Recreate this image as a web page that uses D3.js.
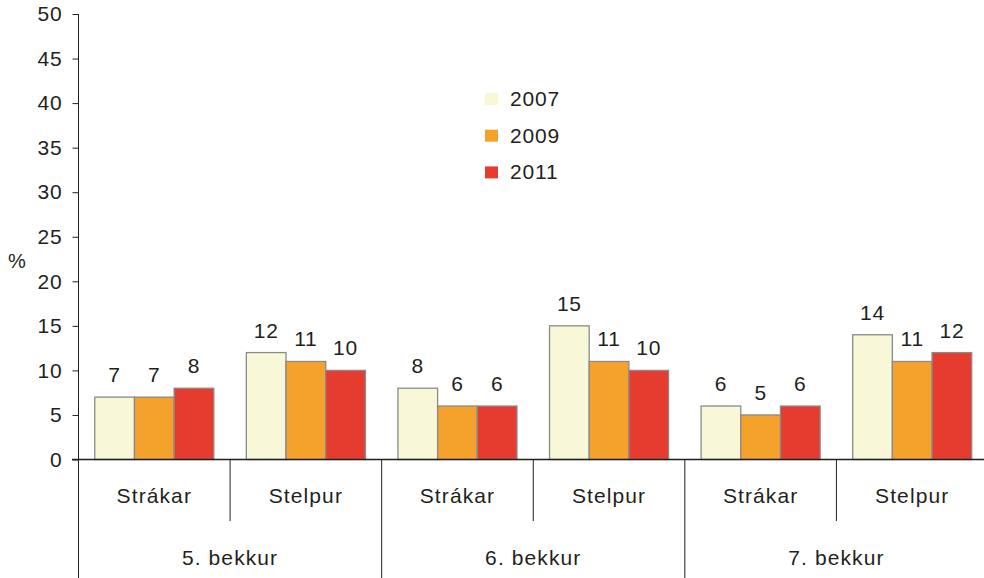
<!DOCTYPE html>
<html>
<head>
<meta charset="utf-8">
<script src="https://cdn.jsdelivr.net/npm/d3@7"></script>
<style>
  body { margin: 0; background: #fff; }
  text { font-family: "Liberation Sans", Arial, sans-serif; fill: #231f20; }
</style>
</head>
<body>
<div id="chart"></div>
<script>
// Dades
const bekkir = ["5. bekkur", "6. bekkur", "7. bekkur"];
const kyn = ["Strákar", "Stelpur"];
const ar = ["2007", "2009", "2011"];
const gildi2007 = [7, 12, 8, 15, 6, 14];
const gildi2009 = [7, 11, 6, 11, 5, 11];
const gildi2011 = [8, 10, 6, 10, 6, 12];
const yTicks = [0, 5, 10, 15, 20, 25, 30, 35, 40, 45, 50];
const litir = ["#f8f7d8", "#f5a22c", "#e63c30"];

const ample = 984, alt = 578;
const svg = d3.select("#chart").append("svg")
  .attr("width", ample).attr("height", alt);

// Subflokkar: 6 stk (bekkur x kyn)
const flokkar = [];
bekkir.forEach(b => kyn.forEach(k => flokkar.push(b + "|" + k)));
const rodir = [gildi2007, gildi2009, gildi2011];
const dades = flokkar.map((f, i) => ({
  flokkur: f,
  gildi: ar.map((a, j) => ({ ar: a, val: rodir[j][i] }))
}));

const x0 = d3.scaleBand().domain(flokkar).range([78.5, 988]).padding(0);
const x1 = d3.scaleBand().domain(ar).range([0, x0.bandwidth()])
  .paddingInner(0).paddingOuter(0.41);
const xb = d3.scaleBand().domain(bekkir).range([78.5, 988]).padding(0);
const y = d3.scaleLinear().domain([0, 50]).range([459.5, 14]);

// Súlur
const hop = svg.selectAll(".hop").data(dades).enter().append("g")
  .attr("transform", d => `translate(${x0(d.flokkur)},0)`);

hop.selectAll("rect").data(d => d.gildi).enter().append("rect")
  .attr("x", d => x1(d.ar))
  .attr("y", d => y(d.val))
  .attr("width", x1.bandwidth())
  .attr("height", d => y(0) - y(d.val))
  .attr("fill", (d, i) => litir[i])
  .attr("stroke", "#8a8a8a")
  .attr("stroke-width", 1.3);

hop.selectAll(".lab").data(d => d.gildi).enter().append("text")
  .attr("x", d => x1(d.ar) + x1.bandwidth() / 2)
  .attr("y", d => y(d.val) - 15)
  .attr("text-anchor", "middle")
  .style("font-size", "21px")
  .style("letter-spacing", "0.8px")
  .text(d => d.val);

// Y ás
const yAxis = svg.append("g").attr("transform", "translate(78.5,0)")
  .call(d3.axisLeft(y).tickValues(yTicks).tickSize(6).tickPadding(10));
yAxis.select(".domain").remove();
yAxis.selectAll(".tick line").attr("stroke", "#231f20");
yAxis.selectAll(".tick text").style("font-size", "21px")
  .style("letter-spacing", "0.8px").attr("fill", "#231f20");

svg.append("line")
  .attr("x1", 78.5).attr("x2", 78.5).attr("y1", y(50)).attr("y2", alt)
  .attr("stroke", "#231f20");
svg.append("line")
  .attr("x1", 72).attr("x2", 988).attr("y1", y(0)).attr("y2", y(0))
  .attr("stroke", "#231f20").attr("stroke-width", 1.3);

svg.append("text").attr("x", 17).attr("y", 268)
  .attr("text-anchor", "middle").style("font-size", "20px").text("%");

// X flokkar
flokkar.forEach((f, i) => {
  const k = f.split("|")[1];
  svg.append("text")
    .attr("x", x0(f) + x0.bandwidth() / 2).attr("y", 503)
    .attr("text-anchor", "middle").style("font-size", "21px")
    .style("letter-spacing", "1.1px").text(k);
  if (i % 2 === 1 && i < flokkar.length - 1) {
    svg.append("line")
      .attr("x1", x0(f) + x0.bandwidth()).attr("x2", x0(f) + x0.bandwidth())
      .attr("y1", y(0)).attr("y2", alt).attr("stroke", "#231f20");
  } else if (i % 2 === 0) {
    svg.append("line")
      .attr("x1", x0(f) + x0.bandwidth()).attr("x2", x0(f) + x0.bandwidth())
      .attr("y1", y(0)).attr("y2", 521).attr("stroke", "#231f20");
  }
});

bekkir.forEach(b => {
  svg.append("text")
    .attr("x", xb(b) + xb.bandwidth() / 2).attr("y", 565)
    .attr("text-anchor", "middle").style("font-size", "21px")
    .style("letter-spacing", "1.1px").text(b);
});

// Skýring
const skyring = svg.append("g").attr("transform", "translate(485,93)");
ar.forEach((a, i) => {
  const g = skyring.append("g").attr("transform", `translate(0,${i * 36.7})`);
  g.append("rect").attr("width", 13).attr("height", 12).attr("fill", litir[i]);
  g.append("text").attr("x", 25).attr("y", 13).style("font-size", "21px")
    .style("letter-spacing", "0.8px").text(a);
});
</script>
</body>
</html>
